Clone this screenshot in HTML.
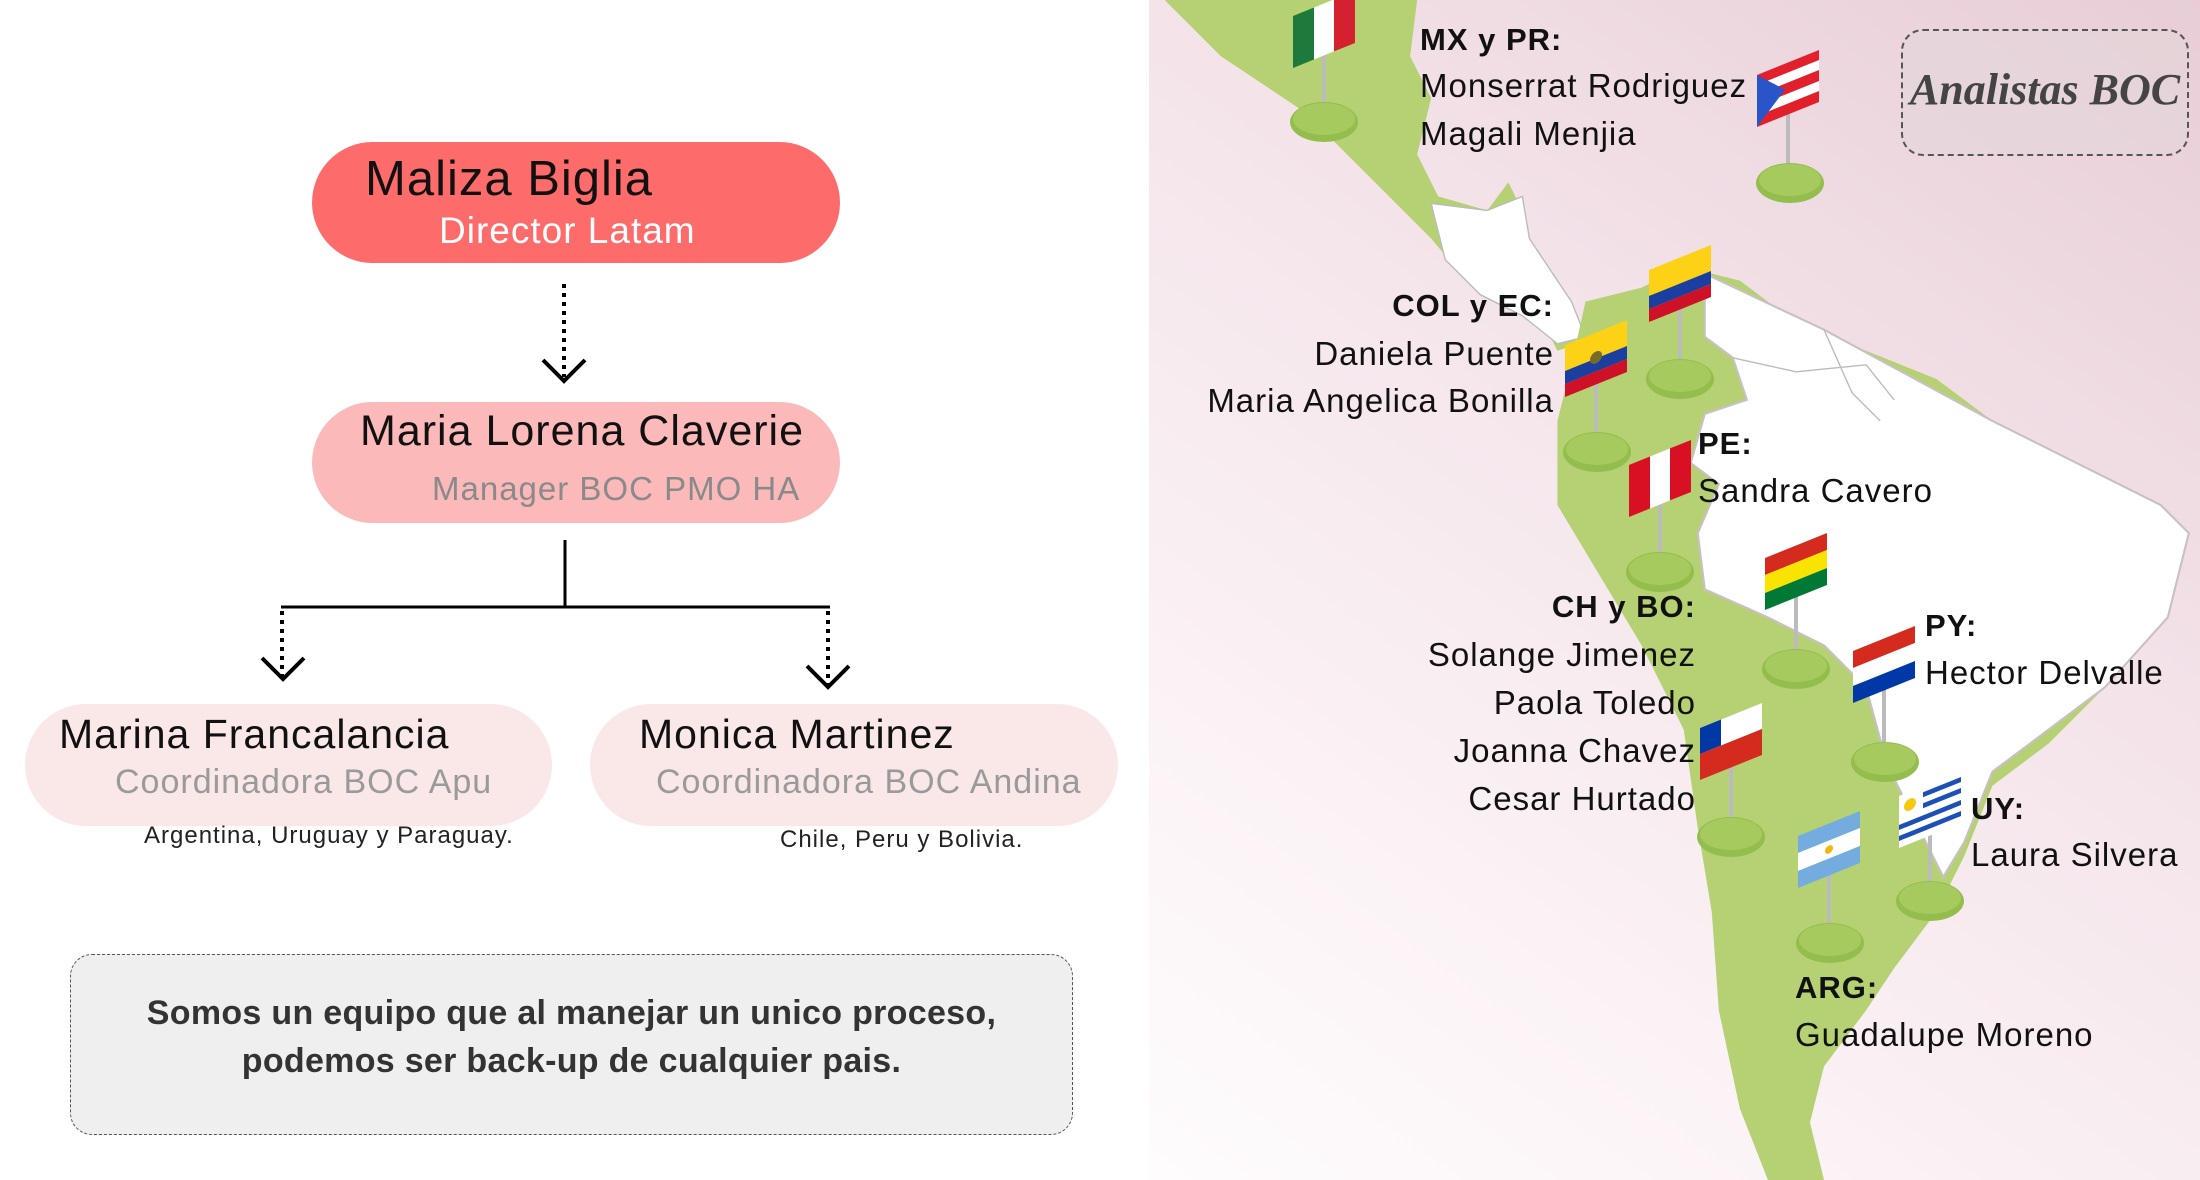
<!DOCTYPE html>
<html><head><meta charset="utf-8"><style>
body{margin:0;width:2200px;height:1180px;position:relative;overflow:hidden;background:#fff;font-family:"Liberation Sans",sans-serif;}
.t{position:absolute;line-height:1;white-space:nowrap;letter-spacing:1px;}
.pill{position:absolute;border-radius:62px;}
#right{position:absolute;left:1149px;top:0;width:1051px;height:1180px;background:linear-gradient(215deg,#e8cdd6 0%,#f4e4ea 40%,#fbf3f6 75%,#fefcfd 100%);}
.b{font-weight:bold;font-size:31px;color:#111;}
.n{font-size:33px;color:#111;}
</style></head><body>
<div class="pill" style="left:312px;top:142px;width:528px;height:121px;background:#fe6b6b"></div>
<div class="t" style="left:365px;top:155px;font-size:49px;color:#111">Maliza Biglia</div>
<div class="t" style="left:439px;top:212px;font-size:37px;color:#fff">Director Latam</div>
<div class="pill" style="left:312px;top:402px;width:528px;height:121px;background:#fcb9b9"></div>
<div class="t" style="left:360px;top:410px;font-size:43px;color:#111">Maria Lorena Claverie</div>
<div class="t" style="left:432px;top:472px;font-size:33px;color:#8a8a8a">Manager BOC PMO HA</div>
<div class="pill" style="left:25px;top:704px;width:527px;height:122px;background:#fae8e9"></div>
<div class="t" style="left:59px;top:714px;font-size:41px;color:#111">Marina Francalancia</div>
<div class="t" style="left:115px;top:765px;font-size:34px;color:#9a9a9a">Coordinadora BOC Apu</div>
<div class="t" style="left:144px;top:824px;font-size:24px;color:#222">Argentina, Uruguay y Paraguay.</div>
<div class="pill" style="left:590px;top:704px;width:528px;height:122px;background:#fae8e9"></div>
<div class="t" style="left:639px;top:714px;font-size:41px;color:#111">Monica Martinez</div>
<div class="t" style="left:656px;top:765px;font-size:34px;color:#9a9a9a">Coordinadora BOC Andina</div>
<div class="t" style="left:780px;top:828px;font-size:24px;color:#222">Chile, Peru y Bolivia.</div>
<div style="position:absolute;left:70px;top:954px;width:1001px;height:179px;border:1.5px dashed #555;border-radius:22px;background:#efefef"></div>
<div class="t" style="left:70px;width:1003px;text-align:center;top:996px;font-size:34px;font-weight:bold;color:#333;letter-spacing:0.3px">Somos un equipo que al manejar un unico proceso,</div>
<div class="t" style="left:70px;width:1003px;text-align:center;top:1044px;font-size:34px;font-weight:bold;color:#333;letter-spacing:0.3px">podemos ser back-up de cualquier pais.</div>
<svg style="position:absolute;left:0;top:0" width="1149" height="1180">
<g stroke="#000" stroke-width="4" fill="none">
<line x1="564" y1="284" x2="564" y2="377" stroke-dasharray="4 5"/>
<polyline points="543,360 564,381 585,360"/>
<line x1="565" y1="540" x2="565" y2="607" stroke-width="3"/>
<line x1="281" y1="607" x2="830" y2="607" stroke-width="3"/>
<line x1="282" y1="611" x2="282" y2="676" stroke-dasharray="4 5"/>
<polyline points="262,658 283,679 304,658"/>
<line x1="828" y1="611" x2="828" y2="684" stroke-dasharray="4 5"/>
<polyline points="807,666 828,687 849,666"/>
</g></svg>
<div id="right"></div>
<svg style="position:absolute;left:0;top:0" width="2200" height="1180" viewBox="0 0 2200 1180">
<g transform="scale(1.4031)">
<polygon fill="#b5d173" points="830,0 1010,0 1005,40 1020,70 1010,110 1025,140 1060,150 1075,130 1085,150 1080,175 1050,180 1040,195 1060,210 1095,215 1115,232 1125,245 1110,250 1100,230 1075,215 1045,200 1020,170 990,140 960,110 930,80 900,60 870,40 850,20"/>
<polygon fill="#fff" stroke="#bbb" stroke-width="1" points="1020,145 1060,150 1085,140 1090,170 1120,215 1130,240 1110,245 1085,225 1055,210 1030,185"/>
<polygon fill="#b5d173" points="1130,215 1170,205 1200,190 1240,200 1280,230 1330,250 1380,270 1420,300 1480,330 1540,360 1560,380 1545,440 1500,490 1460,530 1420,560 1400,610 1380,650 1350,690 1330,720 1300,760 1290,800 1300,841 1260,841 1240,790 1225,720 1220,650 1210,590 1200,520 1170,460 1140,410 1110,360 1110,300 1120,260"/>
<polygon fill="#fff" stroke="#c9c0c3" stroke-width="1.5" points="1215,195 1300,235 1420,300 1540,360 1560,380 1545,440 1500,490 1460,520 1420,550 1400,600 1385,625 1365,585 1345,545 1330,490 1300,460 1260,440 1215,420 1210,380 1225,345 1205,330 1215,295 1245,285 1235,255 1215,240"/>
<path d="M1235,255 L1280,265 L1330,260 L1350,285 M1300,235 L1320,280 L1340,300" stroke="#bbb" fill="none"/>
</g>
<defs>
<g id="base"><ellipse cx="0" cy="0" rx="34" ry="20" fill="#93bd4c"/><ellipse cx="0" cy="-3" rx="31" ry="16" fill="#a6ca5e"/></g>
</defs>
<g stroke="#bbb" stroke-width="4">
<line x1="1324" y1="55" x2="1324" y2="119"/><line x1="1788" y1="110" x2="1788" y2="180"/>
<line x1="1680" y1="305" x2="1680" y2="376"/><line x1="1596" y1="380" x2="1596" y2="449"/>
<line x1="1660" y1="500" x2="1660" y2="569"/><line x1="1796" y1="593" x2="1796" y2="666"/>
<line x1="1884" y1="686" x2="1884" y2="759"/><line x1="1731" y1="763" x2="1731" y2="834"/>
<line x1="1829" y1="871" x2="1829" y2="940"/><line x1="1930" y1="831" x2="1930" y2="898"/>
</g>
<use href="#base" x="1324" y="122"/><use href="#base" x="1790" y="183"/><use href="#base" x="1680" y="379"/><use href="#base" x="1597" y="452"/><use href="#base" x="1660" y="572"/><use href="#base" x="1796" y="669"/><use href="#base" x="1885" y="762"/><use href="#base" x="1731" y="837"/><use href="#base" x="1830" y="943"/><use href="#base" x="1930" y="901"/>
<g transform="translate(1293,16) skewY(-22)"><rect width="21" height="52" fill="#1e7a3c"/><rect x="21" width="20" height="52" fill="#fff"/><rect x="41" width="21" height="52" fill="#d5202f"/></g>
<g transform="translate(1757,75) skewY(-22)"><rect width="62" height="52" fill="#e2202c"/><rect y="10" width="62" height="10" fill="#fff"/><rect y="31" width="62" height="10" fill="#fff"/><polygon points="0,0 28,26 0,52" fill="#2a55c8"/></g>
<g transform="translate(1649,270) skewY(-22)"><rect width="62" height="26" fill="#fcd116"/><rect y="26" width="62" height="13" fill="#1a3fa0"/><rect y="39" width="62" height="13" fill="#ce1126"/></g>
<g transform="translate(1565,345) skewY(-22)"><rect width="62" height="26" fill="#fcd116"/><rect y="26" width="62" height="13" fill="#1a3fa0"/><rect y="39" width="62" height="13" fill="#ce1126"/><circle cx="31" cy="25" r="6" fill="#7a6a2a"/></g>
<g transform="translate(1629,465) skewY(-22)"><rect width="21" height="52" fill="#d91023"/><rect x="21" width="20" height="52" fill="#fff"/><rect x="41" width="21" height="52" fill="#d91023"/></g>
<g transform="translate(1765,558) skewY(-22)"><rect width="62" height="17" fill="#d52b1e"/><rect y="17" width="62" height="18" fill="#f9e300"/><rect y="35" width="62" height="17" fill="#007934"/></g>
<g transform="translate(1853,651) skewY(-22)"><rect width="62" height="17" fill="#d52b1e"/><rect y="17" width="62" height="18" fill="#fff"/><rect y="35" width="62" height="17" fill="#0038a8"/></g>
<g transform="translate(1700,728) skewY(-22)"><rect width="62" height="26" fill="#fff"/><rect width="21" height="26" fill="#0039a6"/><rect y="26" width="62" height="26" fill="#d52b1e"/></g>
<g transform="translate(1798,836) skewY(-22)"><rect width="62" height="17" fill="#74acdf"/><rect y="17" width="62" height="18" fill="#fff"/><rect y="35" width="62" height="17" fill="#74acdf"/><circle cx="31" cy="26" r="4" fill="#f6b40e"/></g>
<g transform="translate(1899,796) skewY(-22)"><rect width="62" height="52" fill="#fff"/><rect x="24" y="6" width="38" height="5" fill="#1d4fb8"/><rect x="24" y="17" width="38" height="5" fill="#1d4fb8"/><rect y="29" width="62" height="5" fill="#1d4fb8"/><rect y="40" width="62" height="5" fill="#1d4fb8"/><circle cx="11" cy="13" r="6" fill="#f6c90e"/></g>
</svg>
<div class="t b" style="left:1420px;top:24px">MX y PR:</div>
<div class="t n" style="left:1420px;top:69px">Monserrat Rodriguez</div>
<div class="t n" style="left:1420px;top:117px">Magali Menjia</div>
<div class="t b" style="right:646px;top:290px">COL y EC:</div>
<div class="t n" style="right:646px;top:337px">Daniela Puente</div>
<div class="t n" style="right:646px;top:384px">Maria Angelica Bonilla</div>
<div class="t b" style="left:1698px;top:428px">PE:</div>
<div class="t n" style="left:1698px;top:474px">Sandra Cavero</div>
<div class="t b" style="right:504px;top:591px">CH y BO:</div>
<div class="t n" style="right:504px;top:638px">Solange Jimenez</div>
<div class="t n" style="right:504px;top:686px">Paola Toledo</div>
<div class="t n" style="right:504px;top:734px">Joanna Chavez</div>
<div class="t n" style="right:504px;top:782px">Cesar Hurtado</div>
<div class="t b" style="left:1925px;top:610px">PY:</div>
<div class="t n" style="left:1925px;top:656px">Hector Delvalle</div>
<div class="t b" style="left:1971px;top:793px">UY:</div>
<div class="t n" style="left:1971px;top:838px">Laura Silvera</div>
<div class="t b" style="left:1795px;top:972px">ARG:</div>
<div class="t n" style="left:1795px;top:1018px">Guadalupe Moreno</div>
<div style="position:absolute;left:1901px;top:29px;width:284px;height:123px;border:2px dashed #555;border-radius:22px;background:rgba(225,215,218,.45)"></div>
<div class="t" style="left:1901px;width:288px;text-align:center;top:68px;font-family:'Liberation Serif',serif;font-style:italic;font-weight:bold;font-size:44px;color:#444;letter-spacing:0">Analistas BOC</div>
</body></html>
